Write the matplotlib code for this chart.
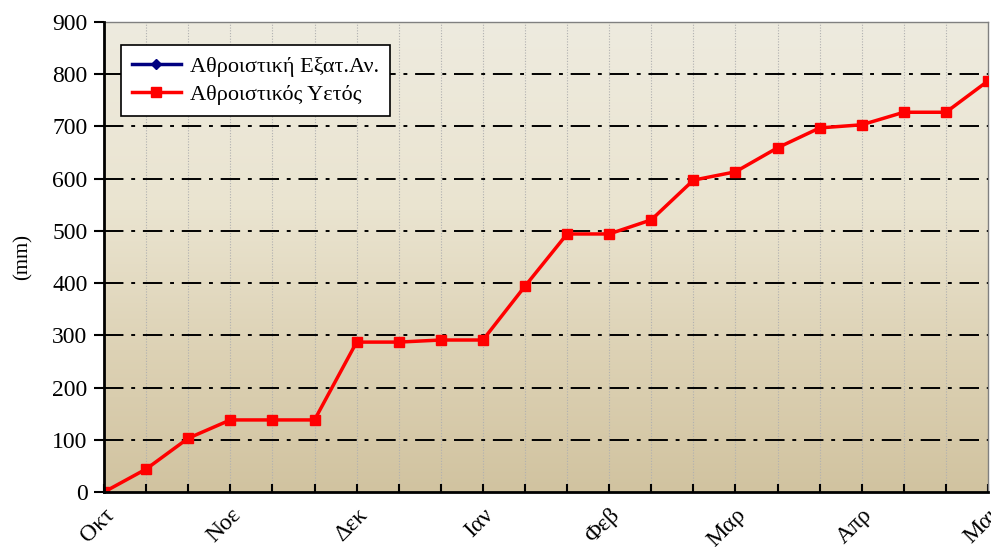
import numpy as np
import matplotlib.pyplot as plt
from matplotlib.colors import LinearSegmentedColormap

plt.rcParams['font.family'] = ['Liberation Serif', 'DejaVu Serif']

# cumulative rainfall (mm), one point per ~10 days from Oct to May
rain = [0, 44, 103, 138, 138, 138, 287, 287, 291, 291, 394, 494,
        494, 521, 597, 613, 659, 697, 703, 727, 727, 787]
evap = [0]
months = ['Οκτ', 'Νοε', 'Δεκ', 'Ιαν', 'Φεβ', 'Μαρ', 'Απρ', 'Μαι']
yticks = [0, 100, 200, 300, 400, 500, 600, 700, 800, 900]

fig = plt.figure(figsize=(9.91, 5.47), dpi=100)
ax = fig.add_axes([0.105, 0.1005, 0.892, 0.8595])

# background gradient, light on top, tan at the bottom
cmap = LinearSegmentedColormap.from_list(
    'bg', [(0.0, '#D1C3A0'), (0.3, '#DDD2B5'), (0.6, '#EAE4D0'), (1.0, '#EEEBDF')])
grad = np.linspace(0, 1, 256).reshape(-1, 1)
ax.imshow(grad, cmap=cmap, aspect='auto', origin='lower',
          extent=[0, 1, 0, 1], transform=ax.transAxes, zorder=0)

x = np.arange(len(rain))
ax.plot(np.arange(len(evap)), evap, color='#000080', lw=2.5, marker='D',
        ms=5, label='Αθροιστική Εξατ.Αν.', zorder=3)
ax.plot(x, rain, color='#FF0000', lw=2.5, marker='s', ms=7,
        label='Αθροιστικός Υετός', zorder=4)

ax.set_xlim(0, len(rain) - 1)
ax.set_ylim(0, 900)
ax.set_yticks(yticks)
ax.set_xticks(x)
ax.set_xticklabels([months[i // 3] if i % 3 == 0 else '' for i in x],
                   rotation=45, ha='right', rotation_mode='anchor')
ax.tick_params(axis='x', direction='in', length=6, width=1.5, pad=9, labelsize=17)
ax.tick_params(axis='y', direction='out', length=7, width=1.5, pad=5, labelsize=17)
ax.set_ylabel('(mm)', fontsize=15, labelpad=14)

for y in yticks[1:-1]:
    ax.axhline(y, color='black', lw=1.4, ls=(0, (10, 4, 2, 4)), zorder=2)
for xi in x[1:-1]:
    ax.axvline(xi, color='#B0B0B0', lw=0.8, ls=(0, (1, 1.5)), zorder=1)

for s in ['left', 'bottom']:
    ax.spines[s].set_linewidth(2)
    ax.spines[s].set_zorder(5)
for s in ['top', 'right']:
    ax.spines[s].set_color('#808080')
    ax.spines[s].set_linewidth(1)

leg = ax.legend(loc='upper left', bbox_to_anchor=(0.019, 0.951), fontsize=16,
                fancybox=False, framealpha=1, edgecolor='black',
                handlelength=2.2, handletextpad=0.4, borderpad=0.5,
                labelspacing=0.35, borderaxespad=0)
leg.get_frame().set_linewidth(1.2)

fig.savefig('out.png', dpi=100)
